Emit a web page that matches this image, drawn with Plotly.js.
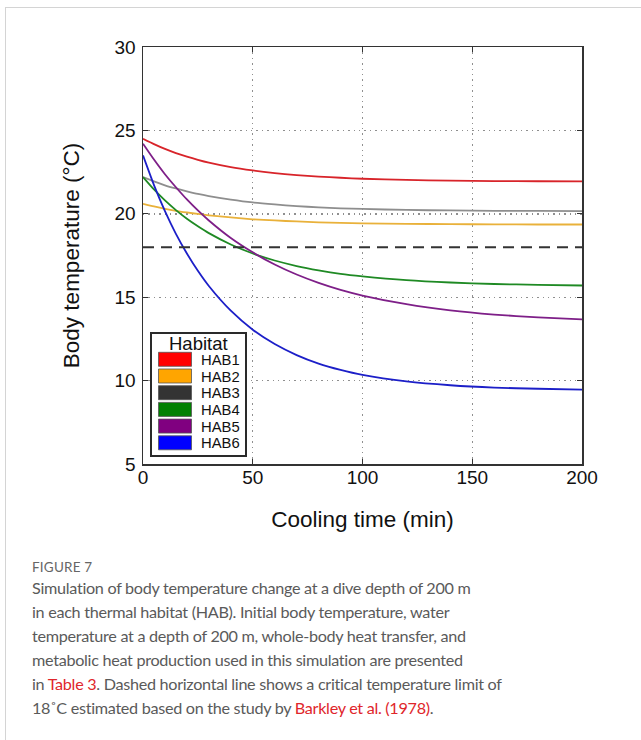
<!DOCTYPE html>
<html>
<head>
<meta charset="utf-8">
<script src="https://cdn.plot.ly/plotly-3.0.1.min.js"></script>
<style>
  html, body { margin:0; padding:0; background:#fff; }
  #wrap { position:relative; width:641px; height:740px; overflow:hidden; }
  #frame { position:absolute; left:5px; top:7px; width:640px; height:740px;
           border-top:1px solid #d4d4d4; border-left:1px solid #d4d4d4; }
  #chart { position:absolute; left:0; top:0; width:641px; height:740px; }
  #caption { position:absolute; left:32px; top:558px; width:605px;
             font-family:Lato, "Noto Sans", sans-serif; color:#5a5a5a; }
  #caption .fig { font-size:13.5px; letter-spacing:0.2px; color:#666; line-height:18px; }
  #caption .txt { font-size:16.2px; letter-spacing:-0.3px; line-height:23.9px; white-space:nowrap; }
  #caption .lnk { color:#e0262b; }
</style>
</head>
<body>
<div id="wrap">
  <div id="frame"></div>
  <div id="chart"></div>
  <div id="caption">
    <div class="fig">FIGURE 7</div>
    <div class="txt">Simulation of body temperature change at a dive depth of 200 m<br>in each thermal habitat (HAB). Initial body temperature, water<br>temperature at a depth of 200 m, whole-body heat transfer, and<br>metabolic heat production used in this simulation are presented<br>in <span class="lnk">Table 3</span>. Dashed horizontal line shows a critical temperature limit of<br>18˚C estimated based on the study by <span class="lnk">Barkley et al. (1978)</span>.</div>
  </div>
</div>
<script>
// ---- data ----
const coolingTime = [0,5,10,15,20,25,30,40,50,60,70,80,90,100,120,140,160,180,200];
const hab1 = [24.5,24.18,23.89,23.64,23.43,23.24,23.07,22.80,22.60,22.44,22.32,22.23,22.16,22.10,22.03,21.99,21.96,21.95,21.94];
const hab2 = [20.6,20.44,20.30,20.18,20.08,19.99,19.91,19.78,19.67,19.60,19.54,19.49,19.46,19.43,19.40,19.38,19.37,19.36,19.36];
const hab3 = [22.2,21.94,21.71,21.52,21.35,21.19,21.06,20.85,20.68,20.56,20.46,20.39,20.33,20.29,20.23,20.20,20.18,20.17,20.16];
const hab4 = [22.2,21.46,20.80,20.22,19.70,19.25,18.84,18.16,17.62,17.20,16.87,16.61,16.40,16.25,16.02,15.88,15.79,15.74,15.70];
const hab5 = [24.2,23.25,22.37,21.59,20.86,20.20,19.60,18.55,17.69,16.96,16.36,15.86,15.44,15.10,14.58,14.21,13.96,13.79,13.67];
const hab6 = [23.5,21.72,20.16,18.80,17.62,16.58,15.67,14.19,13.05,12.19,11.53,11.02,10.64,10.34,9.95,9.72,9.58,9.51,9.46];
const criticalLimit = 18;
const habitatNames = ["HAB1","HAB2","HAB3","HAB4","HAB5","HAB6"];
const xTicks = [0,50,100,150,200];
const yTicks = [5,10,15,20,25,30];

// ---- styles ----
const series = [hab1, hab2, hab3, hab4, hab5, hab6];
const lineColors = ["#d8242a","#e9b13a","#8e8e8e","#1f8a24","#7e1f88","#1c1fc8"];
const swatchColors = ["#ff0000","#ffa500","#333333","#008000","#800080","#0000ff"];

const W = 641, H = 740;
const plotL = 143, plotR = 582, plotT = 47, plotB = 464;
const px2x = p => (p - plotL) / (plotR - plotL);
const py2y = p => (plotB - p) / (plotB - plotT);

const traces = series.map((s, i) => ({
  type: 'scatter', mode: 'lines', x: coolingTime, y: s, name: habitatNames[i],
  line: { color: lineColors[i], width: 1.8, shape: 'spline', smoothing: 0.6 },
  showlegend: false, hoverinfo: 'skip'
}));
traces.push({
  type: 'scatter', mode: 'lines',
  x: [coolingTime[0], coolingTime[coolingTime.length - 1]],
  y: [criticalLimit, criticalLimit],
  line: { color: '#333333', width: 2, dash: '11px,7px' },
  showlegend: false, hoverinfo: 'skip'
});

// manual legend (box, swatches, labels)
const shapes = [];
const annotations = [];
const boxL = 151, boxR = 246, boxT = 333, boxB = 456;
shapes.push({ type:'rect', xref:'paper', yref:'paper', x0:px2x(boxL), x1:px2x(boxR), y0:py2y(boxB), y1:py2y(boxT),
  line:{ color:'#2a2a2a', width:2 }, fillcolor:'#ffffff', layer:'above' });
annotations.push({ xref:'paper', yref:'paper', x:px2x(198), y:py2y(343), text:'Habitat', showarrow:false,
  xanchor:'center', yanchor:'middle', font:{ family:'Liberation Sans, Arial, sans-serif', size:18.5, color:'#111' } });
habitatNames.forEach((nm, i) => {
  const cy = 359.3 + i * 16.7;
  shapes.push({ type:'rect', xref:'paper', yref:'paper', x0:px2x(158.5), x1:px2x(191.5), y0:py2y(cy + 7), y1:py2y(cy - 7),
    line:{ color:'#555', width:0.8 }, fillcolor: swatchColors[i], layer:'above' });
  annotations.push({ xref:'paper', yref:'paper', x:px2x(198.5), y:py2y(cy + 0.5), text:nm, showarrow:false,
    xanchor:'left', yanchor:'middle', font:{ family:'Liberation Sans, Arial, sans-serif', size:14.8, color:'#111' } });
});

const axisCommon = {
  showline: true, mirror: 'ticks', linecolor: '#333', linewidth: 1.5,
  ticks: 'inside', ticklen: 5, tickwidth: 1.2, tickcolor: '#333',
  showgrid: true, gridcolor: '#8f8f8f', gridwidth: 1.4, griddash: '1.4px,4px',
  zeroline: false,
  tickfont: { family: 'Liberation Sans, Arial, sans-serif', size: 19, color: '#111' }
};

const layout = {
  width: W, height: H,
  margin: { l: plotL, r: W - plotR, t: plotT, b: H - plotB, pad: 0 },
  paper_bgcolor: 'rgba(0,0,0,0)', plot_bgcolor: '#ffffff',
  showlegend: false,
  xaxis: Object.assign({}, axisCommon, {
    range: [0, 200], tickvals: xTicks, ticktext: xTicks.map(String),
    ticklabelstandoff: -4,
    title: { text: 'Cooling time (min)', standoff: 24,
             font: { family: 'Liberation Sans, Arial, sans-serif', size: 22.5, color: '#111' } }
  }),
  yaxis: Object.assign({}, axisCommon, {
    range: [5, 30], tickvals: yTicks, ticktext: yTicks.map(String),
    ticklabelstandoff: 2,
    title: { text: 'Body temperature (°C)', standoff: 28,
             font: { family: 'Liberation Sans, Arial, sans-serif', size: 22.5, color: '#111' } }
  }),
  shapes: shapes,
  annotations: annotations
};

Plotly.newPlot('chart', traces, layout, { displayModeBar: false, staticPlot: true });
</script>
</body>
</html>
